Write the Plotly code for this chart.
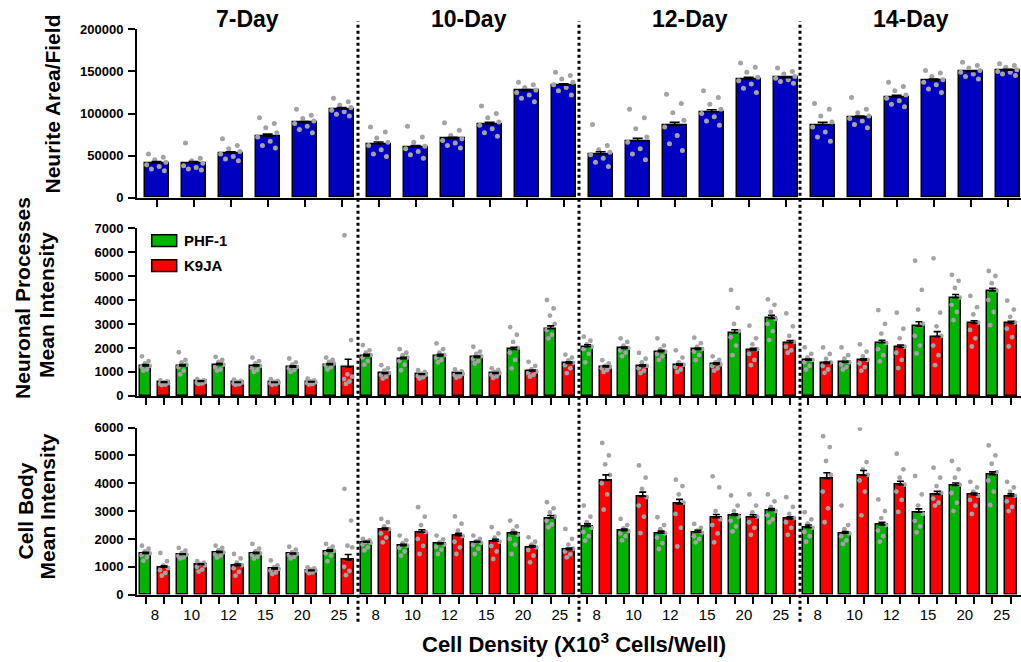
import plotly.graph_objects as go

# ---------------- data ----------------
days = ["7-Day", "10-Day", "12-Day", "14-Day"]
densities = ["8", "10", "12", "15", "20", "25"]

# Neurite Area / Field (24 bars: 4 days x 6 densities)
na_mean = [41000, 41000, 53000, 73000, 89000, 105500,
           64000, 60000, 70000, 87000, 127000, 133500,
           52000, 67000, 85500, 102000, 140500, 142500,
           86000, 95000, 119500, 139000, 150000, 151500]
na_sem = [1800, 2000, 1500, 2500, 1500, 1500,
          2200, 2000, 1800, 2500, 1500, 1800,
          2500, 3500, 4000, 2500, 2500, 1200,
          3500, 2000, 2000, 2000, 800, 1000]
na_dots = [
    [52000, 48000, 45000, 42000, 39000, 37000, 34000, 32000],
    [65000, 47000, 44000, 41000, 38000, 36000, 34000, 33000],
    [70000, 62000, 58000, 55000, 52000, 49000, 46000, 44000],
    [95000, 88000, 83000, 77000, 72000, 67000, 62000, 59000],
    [105000, 98000, 94000, 91000, 88000, 85000, 81000, 77000],
    [118000, 114000, 110000, 107000, 104000, 102000, 99000, 97000],
    [84000, 78000, 71000, 66000, 62000, 57000, 52000, 49000],
    [85000, 72000, 66000, 61000, 58000, 55000, 51000, 47000],
    [89000, 80000, 74000, 70000, 68000, 65000, 62000, 59000],
    [109000, 100000, 95000, 90000, 86000, 82000, 77000, 73000],
    [137000, 134000, 131000, 128000, 125000, 122000, 118000, 114000],
    [149000, 145000, 141000, 137000, 134000, 131000, 127000, 122000],
    [87000, 62000, 57000, 54000, 51000, 47000, 42000, 37000],
    [105000, 95000, 82000, 72000, 66000, 58000, 52000, 45000],
    [123000, 112000, 101000, 92000, 84000, 74000, 64000, 56000],
    [127000, 119000, 111000, 105000, 100000, 96000, 91000, 86000],
    [160000, 155000, 149000, 143000, 139000, 135000, 130000, 125000],
    [154000, 150000, 147000, 144000, 142000, 140000, 138000, 136000],
    [112000, 105000, 97000, 90000, 84000, 78000, 72000, 67000],
    [119000, 105000, 101000, 97000, 94000, 91000, 87000, 83000],
    [137000, 132000, 127000, 122000, 118000, 115000, 111000, 108000],
    [151000, 148000, 144000, 140000, 137000, 134000, 129000, 125000],
    [161000, 157000, 154000, 151000, 149000, 147000, 144000, 141000],
    [159000, 157000, 155000, 152000, 150000, 149000, 147000, 145000],
]

# Neuronal Processes Mean Intensity
np_phf_mean = [1250, 1250, 1300, 1250, 1200, 1300,
               1670, 1550, 1670, 1600, 1940, 2800,
               2050, 1980, 1840, 1940, 2630, 3235,
               1490, 1400, 2220, 2910, 4100, 4380]
np_k9_mean = [560, 600, 560, 560, 580, 1210,
              935, 890, 935, 935, 1030, 1350,
              1210, 1240, 1280, 1325, 1910, 2220,
              1350, 1490, 2020, 2470, 3025, 3025]
np_phf_sem = [60, 60, 60, 50, 50, 50, 60, 60, 60, 60, 90, 120,
              80, 60, 60, 60, 130, 130, 50, 40, 100, 180, 130, 110]
np_k9_sem = [25, 25, 20, 20, 20, 320, 40, 30, 30, 40, 50, 70,
             40, 60, 60, 60, 70, 90, 60, 60, 100, 210, 110, 90]
np_phf_dots = [
    [1650, 1450, 1350, 1250, 1200, 1100, 1050],
    [1820, 1500, 1400, 1300, 1200, 1050, 900],
    [1630, 1500, 1420, 1300, 1200, 1100, 1050],
    [1600, 1450, 1350, 1250, 1150, 1080, 1000],
    [1560, 1400, 1300, 1200, 1150, 1080, 1000],
    [1600, 1500, 1420, 1350, 1280, 1200, 1100],
    [2120, 1900, 1800, 1700, 1600, 1450, 1300],
    [1950, 1800, 1700, 1600, 1450, 1300, 1070],
    [2190, 1950, 1800, 1700, 1600, 1500, 1400],
    [2050, 1850, 1750, 1650, 1550, 1450, 1350],
    [2870, 2550, 2250, 2000, 1800, 1500, 1150],
    [4000, 3650, 3350, 3000, 2750, 2550, 2400],
    [2470, 2300, 2150, 2050, 1950, 1750, 1400],
    [2400, 2250, 2100, 2000, 1900, 1800, 1650],
    [2400, 2100, 1950, 1850, 1750, 1650, 1500],
    [2430, 2200, 2050, 1950, 1850, 1700, 1490],
    [4420, 3670, 3000, 2700, 2450, 2100, 1700],
    [4030, 3800, 3500, 3200, 3000, 2700, 2330],
    [2020, 1750, 1600, 1500, 1400, 1250, 1100],
    [2020, 1700, 1550, 1400, 1300, 1200, 1100],
    [3580, 3000, 2600, 2200, 1950, 1700, 1440],
    [5640, 4420, 3600, 3000, 2500, 2100, 1770],
    [5050, 4800, 4500, 4100, 3800, 3500, 3160],
    [5210, 5000, 4700, 4400, 4000, 3500, 2950],
]
np_k9_dots = [
    [650, 600, 560, 530, 500, 470, 450],
    [700, 650, 610, 580, 550, 520, 500],
    [680, 620, 580, 550, 520, 490, 460],
    [700, 620, 580, 550, 520, 490, 460],
    [720, 650, 600, 560, 530, 500, 470],
    [6700, 2330, 900, 800, 700, 600, 500],
    [1280, 1150, 1050, 950, 880, 800, 720],
    [1070, 1000, 930, 880, 830, 780, 720],
    [1100, 1020, 960, 920, 870, 820, 760],
    [1150, 1080, 1000, 940, 880, 820, 750],
    [1420, 1250, 1120, 1020, 950, 880, 800],
    [1720, 1600, 1480, 1380, 1280, 1150, 950],
    [1490, 1350, 1250, 1200, 1150, 1080, 1000],
    [1790, 1550, 1400, 1250, 1150, 1050, 950],
    [1900, 1600, 1400, 1300, 1200, 1100, 1000],
    [1650, 1500, 1400, 1320, 1250, 1150, 1050],
    [2930, 2400, 2150, 1950, 1750, 1500, 1280],
    [3440, 2900, 2500, 2250, 2050, 1900, 1800],
    [2020, 1750, 1550, 1400, 1250, 1100, 960],
    [2150, 1850, 1650, 1500, 1350, 1200, 1050],
    [3470, 2800, 2400, 2050, 1800, 1500, 1160],
    [5740, 3470, 2900, 2500, 2100, 1700, 1280],
    [4170, 3700, 3400, 3050, 2750, 2400, 2060],
    [3970, 3600, 3300, 3050, 2800, 2450, 2060],
]

# Cell Body Mean Intensity
cb_phf_mean = [1480, 1440, 1520, 1480, 1460, 1560,
               1880, 1760, 1820, 1880, 2180, 2750,
               2450, 2300, 2210, 2240, 2840, 3020,
               2400, 2210, 2500, 2960, 3920, 4310]
cb_k9_mean = [983, 1080, 1040, 925, 860, 1250,
              2330, 2240, 2120, 1920, 1700, 1610,
              4100, 3530, 3260, 2760, 2780, 2720,
              4160, 4280, 3940, 3600, 3580, 3540]
cb_phf_sem = [40, 30, 40, 40, 30, 50, 40, 50, 40, 40, 70, 90,
              90, 60, 70, 70, 60, 70, 100, 60, 100, 120, 90, 100]
cb_k9_sem = [50, 30, 60, 40, 20, 190, 60, 90, 80, 70, 60, 60,
             200, 150, 160, 120, 90, 80, 220, 180, 130, 110, 70, 80]
cb_phf_dots = [
    [1760, 1650, 1550, 1480, 1420, 1350, 1220],
    [1680, 1580, 1500, 1440, 1390, 1340, 1300],
    [1760, 1680, 1600, 1520, 1450, 1400, 1330],
    [1820, 1650, 1550, 1480, 1420, 1360, 1300],
    [1720, 1620, 1520, 1460, 1420, 1360, 1300],
    [1820, 1720, 1640, 1560, 1480, 1400, 1200],
    [2000, 1950, 1900, 1860, 1800, 1700, 1590],
    [2120, 1950, 1850, 1760, 1680, 1550, 1400],
    [2120, 1980, 1880, 1800, 1720, 1620, 1460],
    [2120, 2000, 1920, 1860, 1780, 1650, 1460],
    [2660, 2450, 2300, 2150, 2000, 1800, 1460],
    [3320, 3100, 2950, 2800, 2650, 2520, 2420],
    [3200, 2800, 2600, 2400, 2250, 2100, 1940],
    [2720, 2500, 2380, 2280, 2200, 2100, 1950],
    [2780, 2500, 2350, 2200, 2050, 1850, 1640],
    [2540, 2400, 2300, 2220, 2100, 2000, 1880],
    [3560, 3200, 3000, 2800, 2650, 2450, 2270],
    [3600, 3350, 3150, 3000, 2850, 2700, 2600],
    [2960, 2700, 2550, 2400, 2250, 2100, 1900],
    [3200, 2500, 2350, 2200, 2100, 1950, 1820],
    [3420, 3000, 2750, 2500, 2300, 2100, 1900],
    [4260, 3600, 3200, 2900, 2650, 2450, 2240],
    [4800, 4500, 4200, 3950, 3650, 3300, 3000],
    [5360, 5000, 4700, 4400, 4100, 3700, 3220],
]
cb_k9_dots = [
    [1500, 1200, 1050, 950, 880, 780, 680],
    [1200, 1150, 1100, 1050, 1000, 900, 830],
    [1460, 1300, 1150, 1050, 950, 820, 680],
    [1230, 1050, 980, 920, 870, 800, 740],
    [980, 940, 900, 870, 840, 800, 770],
    [3800, 2660, 1760, 1700, 1000, 850, 700],
    [2720, 2600, 2450, 2350, 2200, 2050, 1880],
    [3140, 2800, 2500, 2250, 2000, 1750, 1460],
    [2810, 2550, 2300, 2100, 1900, 1700, 1460],
    [2420, 2200, 2050, 1900, 1750, 1550, 1280],
    [2060, 1900, 1800, 1700, 1600, 1400, 1160],
    [2360, 2000, 1800, 1650, 1550, 1450, 1340],
    [5450, 5000, 4680, 4300, 4000, 3600, 3050],
    [4640, 4200, 3800, 3500, 3200, 2800, 2210],
    [4130, 3900, 3600, 3300, 2900, 2400, 1730],
    [4250, 3850, 3000, 2700, 2500, 2200, 1880],
    [3600, 3200, 2950, 2800, 2600, 2400, 2150],
    [3500, 3150, 2900, 2750, 2600, 2400, 2150],
    [5690, 5300, 4800, 4300, 3700, 3100, 2600],
    [5960, 4760, 4500, 4300, 4100, 3700, 2850],
    [5060, 4500, 4200, 3950, 3700, 3400, 2970],
    [4560, 4200, 3900, 3650, 3450, 3300, 3200],
    [4050, 3850, 3700, 3550, 3400, 3200, 2900],
    [4050, 3850, 3700, 3550, 3350, 3150, 3000],
]

# ---------------- style ----------------
BLUE = "#0000c0"
GREEN = "#00b400"
RED = "#ff0000"
DOT = "#a3a3a3"
FONT = "Arial, Liberation Sans, sans-serif"
W, H = 1021, 662
L = 137
JIT8 = [-0.22, 0.18, -0.05, 0.25, -0.27, 0.07, -0.14, 0.21]
JIT7 = [-0.2, 0.16, -0.04, 0.22, -0.22, 0.07, -0.12]


def py(p):  # target pixel y -> paper (with calibration of the page capture)
    q = (p - 7.75) / 0.975
    return 1 - q / H


def pxp(p):  # pixel x -> paper
    return (p - L) / (W - L)


fig = go.Figure()


def add_dots(xs, dots, jit, xa, ya, size):
    dx, dy = [], []
    for x0, vals in zip(xs, dots):
        for k, v in enumerate(vals):
            dx.append(x0 + jit[k % len(jit)])
            dy.append(v)
    fig.add_trace(go.Scatter(x=dx, y=dy, mode="markers", xaxis=xa, yaxis=ya,
                             marker=dict(color=DOT, size=size, line=dict(width=0)),
                             showlegend=False, hoverinfo="skip"))


def add_err(xs, means, sems, xa, ya, cap):
    fig.add_trace(go.Scatter(x=xs, y=means, mode="markers", xaxis=xa, yaxis=ya,
                             marker=dict(color="rgba(0,0,0,0)", size=1),
                             error_y=dict(type="data", array=sems,
                                          arrayminus=[0] * len(sems),
                                          color="black", thickness=1.6, width=cap),
                             showlegend=False, hoverinfo="skip"))


# top panel
xt = list(range(24))
fig.add_trace(go.Bar(x=xt, y=na_mean, width=0.65, marker=dict(color=BLUE, line=dict(color="black", width=1.5)),
                     xaxis="x", yaxis="y", showlegend=False))
add_dots(xt, na_dots, JIT8, "x", "y", 5)
add_err(xt, na_mean, na_sem, "x", "y", 5)

# middle & bottom
xg = [2 * i for i in range(24)]
xr = [2 * i + 1 for i in range(24)]
for xa, ya, pm, km, ps, ks, pd, kd in [
    ("x2", "y2", np_phf_mean, np_k9_mean, np_phf_sem, np_k9_sem, np_phf_dots, np_k9_dots),
    ("x3", "y3", cb_phf_mean, cb_k9_mean, cb_phf_sem, cb_k9_sem, cb_phf_dots, cb_k9_dots),
]:
    fig.add_trace(go.Bar(x=xg, y=pm, width=0.63, marker=dict(color=GREEN, line=dict(color="black", width=1.5)),
                         xaxis=xa, yaxis=ya, showlegend=False, name="PHF-1"))
    fig.add_trace(go.Bar(x=xr, y=km, width=0.63, marker=dict(color=RED, line=dict(color="black", width=1.5)),
                         xaxis=xa, yaxis=ya, showlegend=False, name="K9JA"))
    add_dots(xg, pd, JIT7, xa, ya, 4.8)
    add_dots(xr, kd, JIT7, xa, ya, 4.8)
    add_err(xg, pm, ps, xa, ya, 3.5)
    add_err(xr, km, ks, xa, ya, 3.5)

axis_common = dict(showline=True, linecolor="black", linewidth=2, showgrid=False,
                   zeroline=False, ticks="outside", ticklen=7, tickwidth=1.8, tickcolor="black")
ytick_font = dict(family=FONT, size=13, color="black", weight="bold")

fig.update_layout(
    width=W, height=H, autosize=False, plot_bgcolor="white", paper_bgcolor="white",
    margin=dict(l=L, r=0, t=0, b=0), bargap=0, barmode="overlay",
    font=dict(family=FONT, color="black"),
    xaxis=dict(domain=[0, 1], anchor="y", range=[-0.53, 23.36],
               tickvals=xt, showticklabels=False, **axis_common),
    yaxis=dict(domain=[py(198), py(30)], anchor="x", range=[0, 200000],
               tickvals=[0, 50000, 100000, 150000, 200000], tickformat="d",
               tickfont=ytick_font, ticklabelstandoff=2, **axis_common),
    xaxis2=dict(domain=[0, 1], anchor="y2", range=[-0.47, 47.55],
                tickvals=list(range(48)), showticklabels=False, **axis_common),
    yaxis2=dict(domain=[py(395.7), py(228.3)], anchor="x2", range=[0, 7000],
                tickvals=list(range(0, 7001, 1000)), tickformat="d",
                tickfont=ytick_font, ticklabelstandoff=2, **axis_common),
    xaxis3=dict(domain=[0, 1], anchor="y3", range=[-0.47, 47.55],
                showline=True, linecolor="black", linewidth=2, showgrid=False, zeroline=False,
                ticks="outside", ticklen=5, tickcolor="rgba(0,0,0,0)",
                tickvals=[2 * i + 0.5 for i in range(24)], ticktext=densities * 4,
                tickfont=dict(family=FONT, size=15, color="black"),
                minor=dict(tickvals=list(range(48)), ticks="outside", ticklen=7,
                           tickwidth=1.8, tickcolor="black")),
    yaxis3=dict(domain=[py(594), py(427.3)], anchor="x3", range=[0, 6000],
                tickvals=list(range(0, 6001, 1000)), tickformat="d",
                tickfont=ytick_font, ticklabelstandoff=2, **axis_common),
)

# dotted separators
for q in [0.25, 0.5, 0.75]:
    fig.add_shape(type="line", xref="paper", yref="paper", x0=q, x1=q,
                  y0=py(621), y1=py(22), line=dict(color="black", width=3, dash="dot"))

# day titles
for i, d in enumerate(days):
    fig.add_annotation(text=d, xref="paper", yref="paper", x=0.125 + 0.25 * i, y=py(20),
                       showarrow=False, xanchor="center", yanchor="middle",
                       font=dict(family=FONT, size=23, color="black", weight="bold"))

# y titles
ytitles = [("Neurite Area/Field", 52, 105),
           ("Neuronal Processes", 23, 298), ("Mean Intensity", 47, 305),
           ("Cell Body", 25, 511), ("Mean Intensity", 47, 506)]
for t, xp, ypix in ytitles:
    fig.add_annotation(text=t, xref="paper", yref="paper", x=pxp(xp), y=py(ypix),
                       textangle=-90, showarrow=False, xanchor="center", yanchor="middle",
                       font=dict(family=FONT, size=21, color="black", weight="bold"))

# x title
fig.add_annotation(text="Cell Density (X10<sup>3</sup> Cells/Well)", xref="paper", yref="paper",
                   x=pxp(574), y=py(642), showarrow=False, xanchor="center", yanchor="middle",
                   font=dict(family=FONT, size=22, color="black", weight="bold"))

# legend (manual)
for label, col, y0, y1, yt in [("PHF-1", GREEN, 235, 246.7, 241), ("K9JA", RED, 260, 271.7, 266)]:
    fig.add_shape(type="rect", xref="paper", yref="paper", x0=pxp(151.7), x1=pxp(176.7),
                  y0=py(y1), y1=py(y0), fillcolor=col, line=dict(color="black", width=1.5))
    fig.add_annotation(text=label, xref="paper", yref="paper", x=pxp(182), y=py(yt),
                       showarrow=False, xanchor="left", yanchor="middle",
                       font=dict(family=FONT, size=15, color="black", weight="bold"))

fig.write_html("out.html", config={"responsive": False, "displayModeBar": False},
               post_script="document.body.style.margin='0';document.body.style.overflow='hidden';")
